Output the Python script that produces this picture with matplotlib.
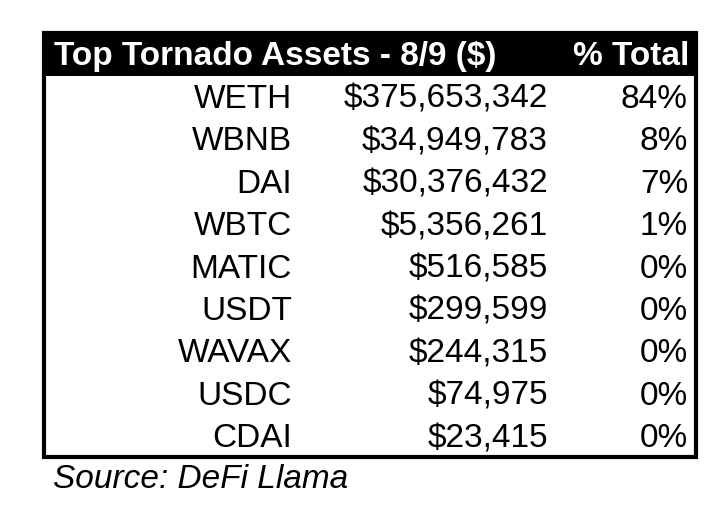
import matplotlib.pyplot as plt
from matplotlib.patches import Rectangle

# table data
title = "Top Tornado Assets - 8/9 ($)"
total_header = "% Total"
assets = ["WETH", "WBNB", "DAI", "WBTC", "MATIC", "USDT", "WAVAX", "USDC", "CDAI"]
values = [375653342, 34949783, 30376432, 5356261, 516585, 299599, 244315, 74975, 23415]
shares = [84, 8, 7, 1, 0, 0, 0, 0, 0]
source = "Source: DeFi Llama"

plt.rcParams['font.family'] = ['Liberation Sans', 'DejaVu Sans']

fig = plt.figure(figsize=(7.22, 5.17), dpi=100)
ax = fig.add_axes([0, 0, 1, 1])
ax.set_xlim(0, 722)
ax.set_ylim(517, 0)
ax.axis('off')

# header bar and outer border
ax.add_patch(Rectangle((42, 31), 656, 45, facecolor='black', edgecolor='none'))
ax.add_patch(Rectangle((44, 33), 652, 424, facecolor='none', edgecolor='black', linewidth=3))

fs = 24
ax.text(54, 65, title, color='white', fontsize=fs, fontweight='bold', ha='left', va='baseline')
ax.text(689, 65, total_header, color='white', fontsize=fs, fontweight='bold', ha='right', va='baseline')

for i, (name, val, pct) in enumerate(zip(assets, values, shares)):
    y = 108 + i * 42.4
    ax.text(292, y, name, fontsize=fs, ha='right', va='baseline')
    ax.text(548, y, "${:,}".format(val), fontsize=fs, ha='right', va='baseline')
    ax.text(688, y, "{}%".format(pct), fontsize=fs, ha='right', va='baseline')

ax.text(53, 488, source, fontsize=fs, style='italic', ha='left', va='baseline')

fig.savefig("out.png", dpi=100)
